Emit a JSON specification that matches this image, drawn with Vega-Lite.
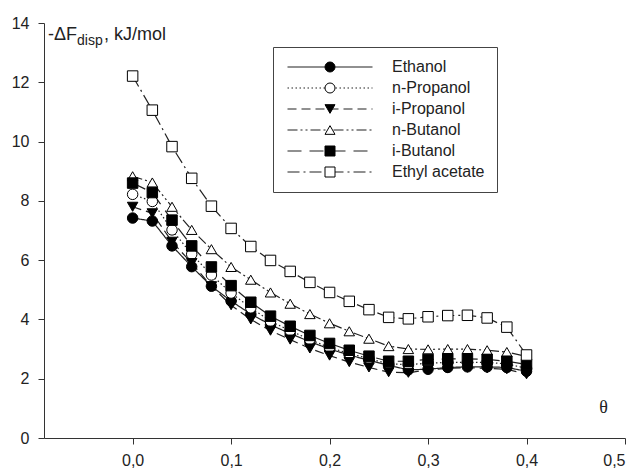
{
  "$schema": "https://vega.github.io/schema/vega-lite/v6.json",
  "width": 581,
  "height": 415,
  "autosize": "none",
  "padding": {"left": 44, "top": 23, "right": 14, "bottom": 32},
  "background": "white",
  "config": {
    "view": {"stroke": null},
    "font": "Liberation Sans",
    "locale": {"number": {"decimal": ",", "thousands": ".", "grouping": [3], "currency": ["", " €"]}},
    "axis": {"grid": false, "domainColor": "#333", "tickColor": "#333", "labelColor": "#222", "labelFontSize": 16, "labelFont": "Liberation Sans", "tickSize": 6}
  },
  "data": {"values": [
      {"s":"Ethanol","t":0,"v":7.42},{"s":"Ethanol","t":0.02,"v":7.32},{"s":"Ethanol","t":0.04,"v":6.48},{"s":"Ethanol","t":0.06,"v":5.78},{"s":"Ethanol","t":0.08,"v":5.12},{"s":"Ethanol","t":0.1,"v":4.62},{"s":"Ethanol","t":0.12,"v":4.18},{"s":"Ethanol","t":0.14,"v":3.82},{"s":"Ethanol","t":0.16,"v":3.52},{"s":"Ethanol","t":0.18,"v":3.25},{"s":"Ethanol","t":0.2,"v":3.0},{"s":"Ethanol","t":0.22,"v":2.8},{"s":"Ethanol","t":0.24,"v":2.62},{"s":"Ethanol","t":0.26,"v":2.45},{"s":"Ethanol","t":0.28,"v":2.3},{"s":"Ethanol","t":0.3,"v":2.32},{"s":"Ethanol","t":0.32,"v":2.38},{"s":"Ethanol","t":0.34,"v":2.4},{"s":"Ethanol","t":0.36,"v":2.4},{"s":"Ethanol","t":0.38,"v":2.38},{"s":"Ethanol","t":0.4,"v":2.25},
      {"s":"n-Propanol","t":0,"v":8.22},{"s":"n-Propanol","t":0.02,"v":7.98},{"s":"n-Propanol","t":0.04,"v":7.02},{"s":"n-Propanol","t":0.06,"v":6.2},{"s":"n-Propanol","t":0.08,"v":5.5},{"s":"n-Propanol","t":0.1,"v":4.89},{"s":"n-Propanol","t":0.12,"v":4.39},{"s":"n-Propanol","t":0.14,"v":3.94},{"s":"n-Propanol","t":0.16,"v":3.62},{"s":"n-Propanol","t":0.18,"v":3.32},{"s":"n-Propanol","t":0.2,"v":3.05},{"s":"n-Propanol","t":0.22,"v":2.85},{"s":"n-Propanol","t":0.24,"v":2.68},{"s":"n-Propanol","t":0.26,"v":2.5},{"s":"n-Propanol","t":0.28,"v":2.48},{"s":"n-Propanol","t":0.3,"v":2.52},{"s":"n-Propanol","t":0.32,"v":2.55},{"s":"n-Propanol","t":0.34,"v":2.55},{"s":"n-Propanol","t":0.36,"v":2.55},{"s":"n-Propanol","t":0.38,"v":2.5},{"s":"n-Propanol","t":0.4,"v":2.35},
      {"s":"i-Propanol","t":0,"v":7.8},{"s":"i-Propanol","t":0.02,"v":7.58},{"s":"i-Propanol","t":0.04,"v":6.62},{"s":"i-Propanol","t":0.06,"v":5.9},{"s":"i-Propanol","t":0.08,"v":5.12},{"s":"i-Propanol","t":0.1,"v":4.48},{"s":"i-Propanol","t":0.12,"v":4.0},{"s":"i-Propanol","t":0.14,"v":3.62},{"s":"i-Propanol","t":0.16,"v":3.32},{"s":"i-Propanol","t":0.18,"v":3.02},{"s":"i-Propanol","t":0.2,"v":2.78},{"s":"i-Propanol","t":0.22,"v":2.56},{"s":"i-Propanol","t":0.24,"v":2.38},{"s":"i-Propanol","t":0.26,"v":2.22},{"s":"i-Propanol","t":0.28,"v":2.2},{"s":"i-Propanol","t":0.3,"v":2.3},{"s":"i-Propanol","t":0.32,"v":2.35},{"s":"i-Propanol","t":0.34,"v":2.37},{"s":"i-Propanol","t":0.36,"v":2.35},{"s":"i-Propanol","t":0.38,"v":2.32},{"s":"i-Propanol","t":0.4,"v":2.15},
      {"s":"n-Butanol","t":0,"v":8.83},{"s":"n-Butanol","t":0.02,"v":8.62},{"s":"n-Butanol","t":0.04,"v":7.8},{"s":"n-Butanol","t":0.06,"v":7.02},{"s":"n-Butanol","t":0.08,"v":6.37},{"s":"n-Butanol","t":0.1,"v":5.77},{"s":"n-Butanol","t":0.12,"v":5.34},{"s":"n-Butanol","t":0.14,"v":4.91},{"s":"n-Butanol","t":0.16,"v":4.53},{"s":"n-Butanol","t":0.18,"v":4.18},{"s":"n-Butanol","t":0.2,"v":3.87},{"s":"n-Butanol","t":0.22,"v":3.6},{"s":"n-Butanol","t":0.24,"v":3.35},{"s":"n-Butanol","t":0.26,"v":3.1},{"s":"n-Butanol","t":0.28,"v":3.0},{"s":"n-Butanol","t":0.3,"v":2.99},{"s":"n-Butanol","t":0.32,"v":3.0},{"s":"n-Butanol","t":0.34,"v":3.0},{"s":"n-Butanol","t":0.36,"v":2.96},{"s":"n-Butanol","t":0.38,"v":2.9},{"s":"n-Butanol","t":0.4,"v":2.75},
      {"s":"i-Butanol","t":0,"v":8.6},{"s":"i-Butanol","t":0.02,"v":8.28},{"s":"i-Butanol","t":0.04,"v":7.35},{"s":"i-Butanol","t":0.06,"v":6.48},{"s":"i-Butanol","t":0.08,"v":5.77},{"s":"i-Butanol","t":0.1,"v":5.14},{"s":"i-Butanol","t":0.12,"v":4.58},{"s":"i-Butanol","t":0.14,"v":4.11},{"s":"i-Butanol","t":0.16,"v":3.77},{"s":"i-Butanol","t":0.18,"v":3.46},{"s":"i-Butanol","t":0.2,"v":3.19},{"s":"i-Butanol","t":0.22,"v":2.96},{"s":"i-Butanol","t":0.24,"v":2.76},{"s":"i-Butanol","t":0.26,"v":2.59},{"s":"i-Butanol","t":0.28,"v":2.59},{"s":"i-Butanol","t":0.3,"v":2.65},{"s":"i-Butanol","t":0.32,"v":2.67},{"s":"i-Butanol","t":0.34,"v":2.67},{"s":"i-Butanol","t":0.36,"v":2.65},{"s":"i-Butanol","t":0.38,"v":2.59},{"s":"i-Butanol","t":0.4,"v":2.48},
      {"s":"Ethyl acetate","t":0,"v":12.21},{"s":"Ethyl acetate","t":0.02,"v":11.06},{"s":"Ethyl acetate","t":0.04,"v":9.83},{"s":"Ethyl acetate","t":0.06,"v":8.76},{"s":"Ethyl acetate","t":0.08,"v":7.82},{"s":"Ethyl acetate","t":0.1,"v":7.07},{"s":"Ethyl acetate","t":0.12,"v":6.46},{"s":"Ethyl acetate","t":0.14,"v":5.99},{"s":"Ethyl acetate","t":0.16,"v":5.62},{"s":"Ethyl acetate","t":0.18,"v":5.25},{"s":"Ethyl acetate","t":0.2,"v":4.91},{"s":"Ethyl acetate","t":0.22,"v":4.61},{"s":"Ethyl acetate","t":0.24,"v":4.33},{"s":"Ethyl acetate","t":0.26,"v":4.07},{"s":"Ethyl acetate","t":0.28,"v":4.02},{"s":"Ethyl acetate","t":0.3,"v":4.09},{"s":"Ethyl acetate","t":0.32,"v":4.13},{"s":"Ethyl acetate","t":0.34,"v":4.14},{"s":"Ethyl acetate","t":0.36,"v":4.05},{"s":"Ethyl acetate","t":0.38,"v":3.74},{"s":"Ethyl acetate","t":0.4,"v":2.8}
  ]},
  "encoding": {
    "x": {"field": "t", "type": "quantitative", "scale": {"domain": [-0.09, 0.5], "nice": false, "zero": false},
      "axis": {"values": [0, 0.1, 0.2, 0.3, 0.4, 0.5], "format": ".1f", "labelPadding": 8, "title": "θ", "titleFont": "Liberation Serif", "titleFontSize": 18, "titleFontWeight": "normal", "titleColor": "#222", "titleX": 559, "titleY": -26, "titleAlign": "center", "titleBaseline": "alphabetic"}},
    "y": {"field": "v", "type": "quantitative", "scale": {"domain": [0, 14], "nice": false},
      "axis": {"values": [0, 2, 4, 6, 8, 10, 12, 14], "labelPadding": 9, "title": null}}
  },
  "layer": [
    {
      "mark": {"type": "line", "stroke": "#222", "strokeWidth": 1.2},
      "encoding": {
        "strokeDash": {"field": "s", "type": "nominal", "sort": ["Ethanol", "n-Propanol", "i-Propanol", "n-Butanol", "i-Butanol", "Ethyl acetate"],
          "scale": {"range": [[1, 0], [1.5, 2.5], [9, 5], [10, 3, 2, 3, 2, 3], [14, 8], [12, 4, 2, 4]]},
          "legend": {"title": null, "orient": "none", "legendX": 229, "legendY": 24, "symbolType": "M-8.5,0H8.5", "symbolSize": 100, "symbolStrokeWidth": 1.2, "symbolStrokeColor": "#222", "labelFontSize": 16, "labelColor": "#222", "labelLimit": 300, "padding": 12, "rowPadding": 5, "symbolOffset": 37, "labelOffset": 54, "strokeColor": "#444", "fillColor": "transparent"}}
      }
    },
    {
      "mark": {"type": "point", "filled": true, "stroke": "black", "strokeWidth": 1, "size": 110, "opacity": 1},
      "encoding": {
        "shape": {"field": "s", "type": "nominal",
          "scale": {"domain": ["Ethanol", "n-Propanol", "i-Propanol", "n-Butanol", "i-Butanol", "Ethyl acetate"], "range": ["circle", "circle", "triangle-down", "triangle-up", "square", "square"]},
          "legend": {"title": null, "orient": "none", "legendX": 229, "legendY": 24, "symbolSize": 100, "symbolStrokeWidth": 1, "labelFontSize": 16, "labelColor": "transparent", "labelLimit": 300, "padding": 12, "rowPadding": 5, "symbolOffset": 37, "labelOffset": 54, "strokeColor": "transparent", "fillColor": "transparent",
            "encode": {"symbols": {"stroke": {"value": "black"}, "strokeWidth": {"value": 1}, "opacity": {"value": 1}}}}},
        "fill": {"field": "s", "type": "nominal",
          "scale": {"domain": ["Ethanol", "n-Propanol", "i-Propanol", "n-Butanol", "i-Butanol", "Ethyl acetate"], "range": ["black", "white", "black", "white", "black", "white"]},
          "legend": {"title": null, "orient": "none", "legendX": 229, "legendY": 24, "symbolSize": 100, "symbolStrokeWidth": 1, "labelFontSize": 16, "labelColor": "transparent", "labelLimit": 300, "padding": 12, "rowPadding": 5, "symbolOffset": 37, "labelOffset": 54, "strokeColor": "transparent", "fillColor": "transparent",
            "encode": {"symbols": {"stroke": {"value": "black"}, "strokeWidth": {"value": 1}, "opacity": {"value": 1}}}}}
      }
    },
    {
      "transform": [{"filter": "datum.s == 'Ethanol' && datum.t == 0"}],
      "mark": {"type": "text", "text": "-ΔF", "align": "left", "baseline": "alphabetic", "fontSize": 18, "fontWeight": "normal", "color": "#222", "dx": 4, "dy": 17},
      "encoding": {"x": {"datum": -0.09, "type": "quantitative"}, "y": {"datum": 14, "type": "quantitative"}}
    },
    {
      "transform": [{"filter": "datum.s == 'Ethanol' && datum.t == 0"}],
      "mark": {"type": "text", "text": "disp", "align": "left", "baseline": "alphabetic", "fontSize": 14, "fontWeight": "normal", "color": "#222", "dx": 33, "dy": 22},
      "encoding": {"x": {"datum": -0.09, "type": "quantitative"}, "y": {"datum": 14, "type": "quantitative"}}
    },
    {
      "transform": [{"filter": "datum.s == 'Ethanol' && datum.t == 0"}],
      "mark": {"type": "text", "text": ", kJ/mol", "align": "left", "baseline": "alphabetic", "fontSize": 18, "fontWeight": "normal", "color": "#222", "dx": 60, "dy": 17},
      "encoding": {"x": {"datum": -0.09, "type": "quantitative"}, "y": {"datum": 14, "type": "quantitative"}}
    }
  ]
}
